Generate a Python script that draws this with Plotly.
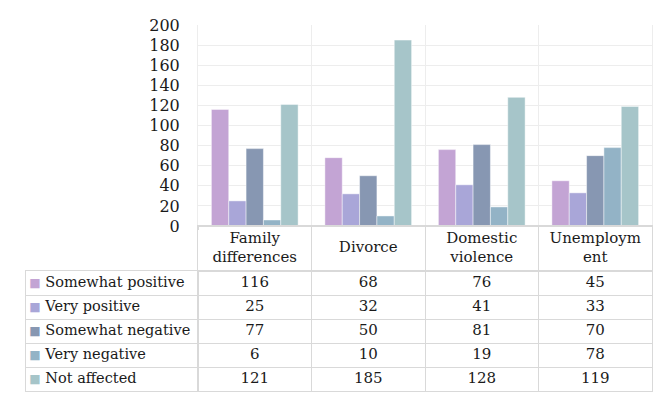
import plotly.graph_objects as go

categories = ["Family differences", "Divorce", "Domestic violence", "Unemployment"]
header_labels = ["Family<br>differences", "Divorce", "Domestic<br>violence", "Unemploym<br>ent"]
series_names = ["Somewhat positive", "Very positive", "Somewhat negative", "Very negative", "Not affected"]
somewhat_positive = [116, 68, 76, 45]
very_positive = [25, 32, 41, 33]
somewhat_negative = [77, 50, 81, 70]
very_negative = [6, 10, 19, 78]
not_affected = [121, 185, 128, 119]
y_ticks = [0, 20, 40, 60, 80, 100, 120, 140, 160, 180, 200]

series_values = [somewhat_positive, very_positive, somewhat_negative, very_negative, not_affected]
colors = ["#C3A4D4", "#A9A6D8", "#8797B2", "#93B3C6", "#A6C5C9"]

OFF = 8  # page body margin
W, H = 669 - OFF, 413 - OFF
FONT = "DejaVu Serif"
TXT = "#1a1a1a"
GRID = "#EDEDED"
BORDER = "#D9D9D9"
FS = 15


def fx(px):
    return (px - OFF) / W


def fy(py):
    return 1 - (py - OFF) / H


# reference pixel layout
px_left, px_split, px_right = 26, 198, 652
px_plot_top, px_axis, px_head_bot, px_bottom = 25, 226, 271, 391

n_cat = len(categories)
n_row = len(series_names)

fig = go.Figure()

# bars
for name, vals, c in zip(series_names, series_values, colors):
    fig.add_trace(go.Bar(
        x=categories, y=vals, name=name,
        marker=dict(color=c, line=dict(color="rgba(255,255,255,0.45)", width=1)),
        showlegend=False, hoverinfo="skip", xaxis="x", yaxis="y",
    ))

# header row
fig.add_trace(go.Scatter(
    x=categories, y=[0.5] * n_cat, text=header_labels,
    mode="text", textposition="middle center",
    textfont=dict(family=FONT, size=FS, color=TXT),
    showlegend=False, hoverinfo="skip", xaxis="x4", yaxis="y4",
))

# data table cells
cell_x, cell_y, cell_t = [], [], []
for name, vals in zip(series_names, series_values):
    for cat, v in zip(categories, vals):
        cell_x.append(cat)
        cell_y.append(name)
        cell_t.append(str(v))
fig.add_trace(go.Scatter(
    x=cell_x, y=cell_y, text=cell_t,
    mode="text", textposition="middle center",
    textfont=dict(family=FONT, size=FS, color=TXT),
    showlegend=False, hoverinfo="skip", xaxis="x2", yaxis="y2",
))

# legend column
legend_text = [
    "<span style='color:" + c + ";font-size:12px'>■</span> " + n
    for n, c in zip(series_names, colors)
]
fig.add_trace(go.Scatter(
    x=[0] * n_row, y=series_names, text=legend_text,
    mode="text", textposition="middle right",
    textfont=dict(family=FONT, size=14.5, color=TXT),
    showlegend=False, hoverinfo="skip", xaxis="x3", yaxis="y3",
))

cat_axis_common = dict(
    type="category", categoryorder="array", categoryarray=categories,
    range=[-0.5, n_cat - 0.5],
    tickson="boundaries", showticklabels=False, ticks="", automargin=False,
    showgrid=True, gridcolor=BORDER, gridwidth=1,
    showline=True, linecolor=BORDER, linewidth=1, mirror=True,
    zeroline=False, fixedrange=True,
)
row_axis_common = dict(
    type="category", categoryorder="array", categoryarray=series_names[::-1],
    range=[-0.5, n_row - 0.5],
    tickson="boundaries", showticklabels=False, ticks="", automargin=False,
    showgrid=True, gridcolor=BORDER, gridwidth=1,
    showline=True, linecolor=BORDER, linewidth=1, mirror=True,
    zeroline=False, fixedrange=True,
)

fig.update_layout(
    template="none",
    width=W, height=H,
    margin=dict(l=0, r=0, t=0, b=0, autoexpand=False),
    paper_bgcolor="white", plot_bgcolor="white",
    barmode="group", bargap=0.236, bargroupgap=0,
    font=dict(family=FONT, size=FS, color=TXT),
    xaxis=dict(
        domain=[fx(px_split), fx(px_right)],
        type="category", categoryorder="array", categoryarray=categories,
        range=[-0.5, n_cat - 0.5],
        tickson="boundaries", showticklabels=False, automargin=False,
        showgrid=True, gridcolor=GRID, gridwidth=1,
        ticks="outside", ticklen=3, tickcolor=BORDER,
        showline=True, linecolor=BORDER, linewidth=1,
        fixedrange=True, anchor="y",
    ),
    yaxis=dict(
        domain=[fy(px_axis), fy(px_plot_top)],
        range=[0, 200], tickvals=y_ticks, automargin=False,
        showgrid=True, gridcolor=GRID, gridwidth=1,
        showline=True, linecolor=GRID, mirror=True,
        zeroline=False, ticks="", ticklabelstandoff=14,
        tickfont=dict(family=FONT, size=16, color=TXT),
        fixedrange=True, anchor="x",
    ),
    xaxis4=dict(domain=[fx(px_split), fx(px_right)], anchor="y4", **cat_axis_common),
    yaxis4=dict(
        domain=[fy(px_head_bot), fy(px_axis)], range=[0, 1], anchor="x4",
        showgrid=False, showticklabels=False, ticks="", zeroline=False,
        showline=True, linecolor=BORDER, mirror=True, automargin=False, fixedrange=True,
    ),
    xaxis2=dict(domain=[fx(px_split), fx(px_right)], anchor="y2", **cat_axis_common),
    yaxis2=dict(domain=[fy(px_bottom), fy(px_head_bot)], anchor="x2", **row_axis_common),
    xaxis3=dict(
        domain=[fx(px_left), fx(px_split)], range=[-0.02, 1], anchor="y3",
        showgrid=False, showticklabels=False, ticks="", zeroline=False,
        showline=True, linecolor=BORDER, mirror=True, automargin=False, fixedrange=True,
    ),
    yaxis3=dict(domain=[fy(px_bottom), fy(px_head_bot)], anchor="x3", **row_axis_common),
)

fig.write_html("out.html")
